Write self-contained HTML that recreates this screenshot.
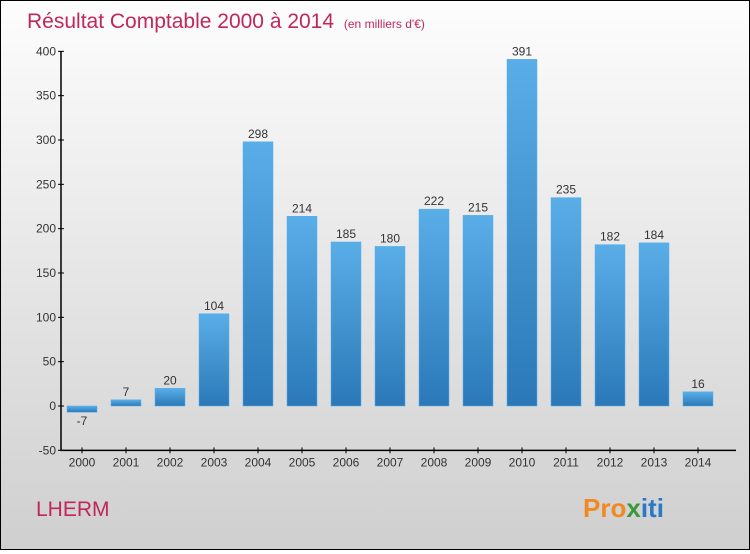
<!DOCTYPE html>
<html><head><meta charset="utf-8"><style>
body{margin:0;width:750px;height:550px;overflow:hidden}
#c{position:absolute;left:0;top:0;width:748px;height:548px;border:1px solid #000;background:linear-gradient(#fdfdfd,#cfcfcf)}
</style></head><body>
<div id="c">
<svg width="748" height="548" id="svg" style="font-family:'Liberation Sans',sans-serif">
<defs><linearGradient id="g" x1="0" y1="0" x2="0" y2="1"><stop offset="0" stop-color="#5aaee8"/><stop offset="1" stop-color="#2a78b8"/></linearGradient></defs>
<text x="26" y="27" font-size="21" fill="#c0275a">Résultat Comptable 2000 à 2014 <tspan font-size="12" dx="4">(en milliers d'€)</tspan></text>
<text x="35" y="515" font-size="21" fill="#c0275a">LHERM</text>
<text x="582" y="516" font-size="26" font-weight="bold" fill="#f08a20">Pro<tspan fill="#3a9a3a">x</tspan><tspan fill="#2a78c8">iti</tspan></text>
<g id="plot"></g>
</svg></div>
<script>
const years=["2000","2001","2002","2003","2004","2005","2006","2007","2008","2009","2010","2011","2012","2013","2014"];
const values=[-7,7,20,104,298,214,185,180,222,215,391,235,182,184,16];
const ticks=[-50,0,50,100,150,200,250,300,350,400];
const NS="http://www.w3.org/2000/svg";
const p=document.getElementById('plot');
const y=v=>405-(v)*(399/450);
const x=i=>81+i*44;
function mk(t,a){const e=document.createElementNS(NS,t);for(const k in a)e.setAttribute(k,a[k]);p.appendChild(e);return e;}
let ax=mk('line',{x1:60,y1:y(400),x2:60,y2:y(-50)+0.5,stroke:'#000','stroke-width':1.5});


let bx=mk('line',{x1:60,y1:y(-50),x2:735,y2:y(-50),stroke:'#000','stroke-width':1.5});


ticks.forEach(t=>{
 mk('line',{x1:57,x2:63,y1:y(t),y2:y(t),stroke:'#000'});
 let tx=mk('text',{x:55,y:y(t)+4,'text-anchor':'end','font-size':12,fill:'#333'});
 tx.textContent=t;
 
 
});
years.forEach((yr,i)=>{
 const v=values[i];
 mk('line',{x1:x(i),x2:x(i),y1:y(-50)-3,y2:y(-50)+3,stroke:'#000'});
 let tl=mk('text',{x:x(i),y:y(-50)+16,'text-anchor':'middle','font-size':12,fill:'#333'});
 tl.textContent=yr;
 
 
 const top=Math.min(y(v),y(0)),h=Math.abs(y(v)-y(0));
 let r=mk('rect',{x:x(i)-15,y:top,width:30,height:Math.max(h,1),fill:'url(#g)',stroke:'#5aaee8','stroke-width':0.5});
 
 
 let lb=mk('text',{x:x(i),y:v>=0?y(v)-4:y(v)+13,'text-anchor':'middle','font-size':12,fill:'#333'});
 lb.textContent=v;
 
 
});
</script>
</body></html>
